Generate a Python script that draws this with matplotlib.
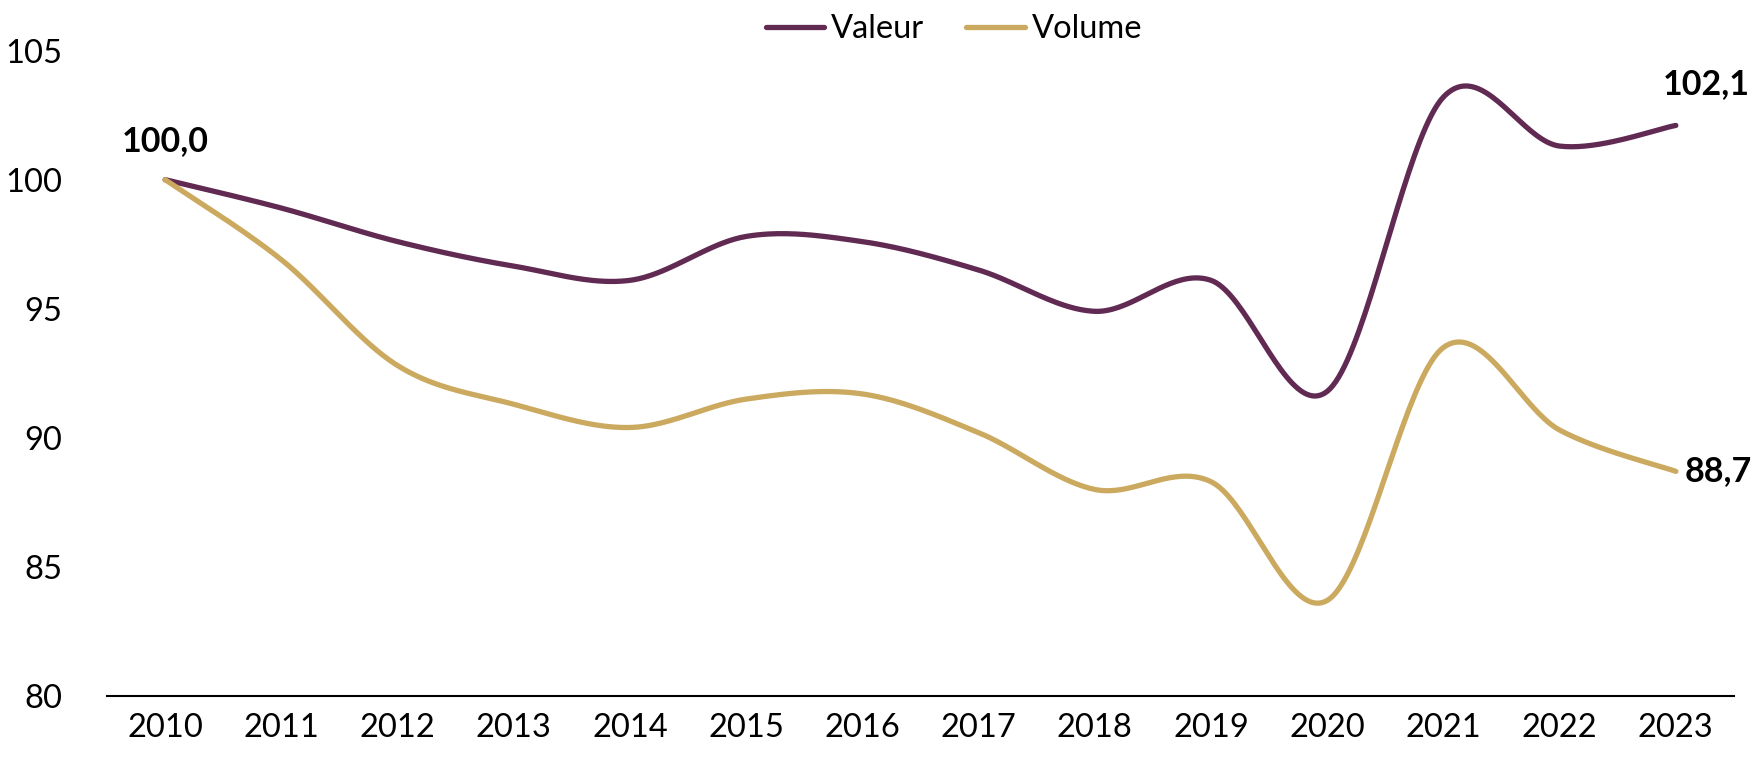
import numpy as np
import matplotlib
matplotlib.use("Agg")
import matplotlib.pyplot as plt

years = [2010, 2011, 2012, 2013, 2014, 2015, 2016, 2017, 2018, 2019, 2020, 2021, 2022, 2023]
valeur = [100.0, 98.9, 97.6, 96.65, 96.1, 97.8, 97.6, 96.5, 94.9, 96.1, 91.8, 103.2, 101.3, 102.1]
volume = [100.0, 96.9, 92.8, 91.3, 90.4, 91.5, 91.7, 90.2, 88.0, 88.3, 83.7, 93.5, 90.3, 88.7]
yticks = [80, 85, 90, 95, 100, 105]

plt.rcParams['font.family'] = ['Lato', 'DejaVu Sans']

C_VAL = '#612A53'
C_VOL = '#CBA95F'


def smooth(xs, ys, n=40):
    # Excel-like smoothed line: Catmull-Rom as cubic Bezier segments
    xs = np.asarray(xs, float)
    ys = np.asarray(ys, float)
    P = np.column_stack([xs, ys])
    out = []
    for i in range(len(P) - 1):
        p0 = P[i - 1] if i > 0 else P[i]
        p1 = P[i]
        p2 = P[i + 1]
        p3 = P[i + 2] if i + 2 < len(P) else P[i + 1]
        c1 = p1 + (p2 - p0) / 6.0
        c2 = p2 - (p3 - p1) / 6.0
        t = np.linspace(0, 1, n, endpoint=(i == len(P) - 2))[:, None]
        seg = ((1 - t) ** 3) * p1 + 3 * ((1 - t) ** 2) * t * c1 + 3 * (1 - t) * t ** 2 * c2 + t ** 3 * p2
        out.append(seg)
    out = np.vstack(out)
    return out[:, 0], out[:, 1]


fig = plt.figure(figsize=(17.6, 7.58), dpi=100)
ax = fig.add_axes([0.0608, 0.0818, 0.9244, 0.8515])

x = np.arange(len(years))
sx, sy = smooth(x, valeur)
ax.plot(sx, sy, color=C_VAL, lw=3.8, solid_capstyle='round', label='Valeur')
sx, sy = smooth(x, volume)
ax.plot(sx, sy, color=C_VOL, lw=3.8, solid_capstyle='round', label='Volume')

ax.set_xlim(-0.5, len(years) - 0.5)
ax.set_ylim(80, 105)
ax.set_yticks(yticks)
ax.set_yticklabels([str(v) for v in yticks], fontsize=23.5)
ax.set_xticks(x)
ax.set_xticklabels([str(y) for y in years], fontsize=23.5)
ax.tick_params(axis='both', length=0, pad=12)
ax.tick_params(axis='y', pad=32)
for s in ['top', 'right', 'left']:
    ax.spines[s].set_visible(False)
ax.spines['bottom'].set_linewidth(1.5)
ax.spines['bottom'].set_color('black')

ax.annotate(f"{valeur[0]:.1f}".replace('.', ','), (x[0], valeur[0]), xytext=(0, 16),
            textcoords='offset points', ha='center', va='bottom', fontsize=24.5, fontweight='bold')
ax.annotate(f"{valeur[-1]:.1f}".replace('.', ','), (x[-1], valeur[-1]), xytext=(22, 18),
            textcoords='offset points', ha='center', va='bottom', fontsize=24.5, fontweight='bold')
ax.annotate(f"{volume[-1]:.1f}".replace('.', ','), (x[-1], volume[-1]), xytext=(6, 0),
            textcoords='offset points', ha='left', va='center', fontsize=24.5, fontweight='bold')

fig.legend(loc='upper center', bbox_to_anchor=(0.542, 1.02), ncol=2, frameon=False,
           fontsize=23.5, handlelength=1.8, handletextpad=0.2, columnspacing=1.3)

fig.savefig('out.png', dpi=100)
